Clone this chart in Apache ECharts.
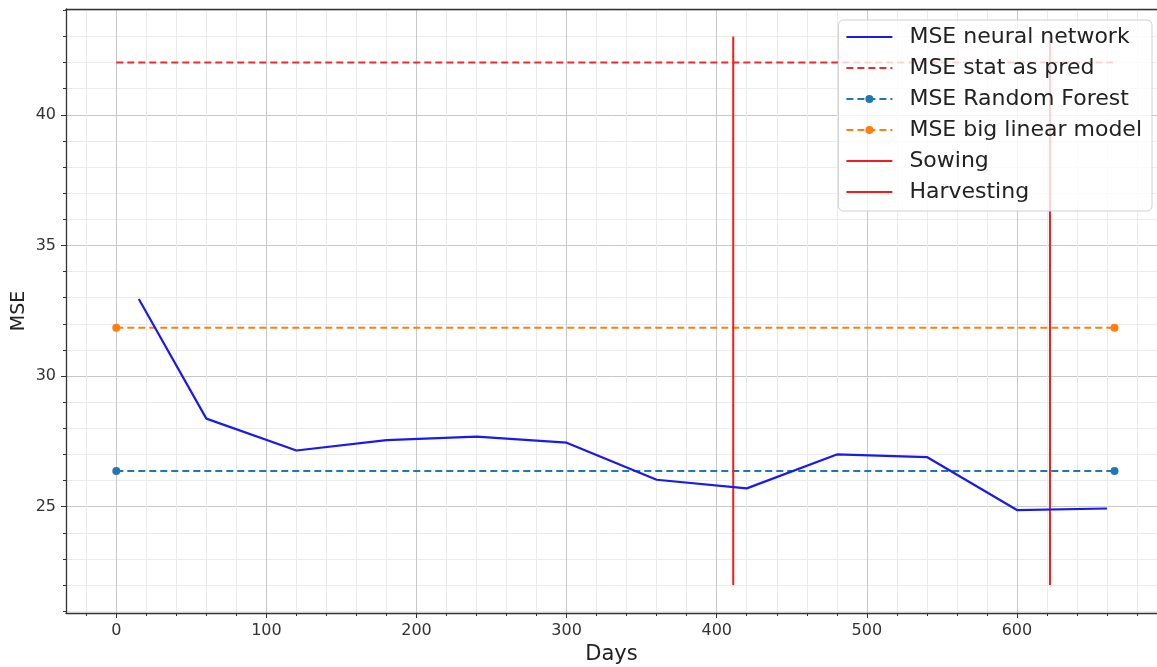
<!DOCTYPE html>
<html>
<head>
<meta charset="utf-8">
<script src="https://cdn.jsdelivr.net/npm/echarts@6/dist/echarts.min.js"></script>
<style>html,body{margin:0;padding:0;background:#fff}#c{width:1157px;height:667px}</style>
</head>
<body>
<div id="c"></div>
<script>
// ---- data ----
const nnDays = [15, 60, 120, 180, 240, 300, 360, 420, 480, 540, 600, 660];
const nnMSE = [32.95, 28.37, 27.15, 27.55, 27.68, 27.45, 26.03, 25.7, 27.0, 26.9, 24.87, 24.93];
const hLineDays = [0, 665];
const statValue = 42.0;
const rfValue = 26.37;
const lmValue = 31.85;
const sowingDay = 411;
const harvestDay = 622;
const vLineRange = [22, 43];
const xMajorTicks = [0, 100, 200, 300, 400, 500, 600];
const xMinorTicks = [-20, 20, 40, 60, 80, 120, 140, 160, 180, 220, 240, 260, 280, 320, 340, 360, 380, 420, 440, 460, 480, 520, 540, 560, 580, 620, 640, 660, 680];
const yMajorTicks = [25, 30, 35, 40];
const yMinorTicks = [21, 22, 23, 24, 26, 27, 28, 29, 31, 32, 33, 34, 36, 37, 38, 39, 41, 42, 43, 44];
const xRange = [-33.5, 693.3];
const yRange = [20.93, 44.05];
const seriesNames = ['MSE neural network', 'MSE stat as pred', 'MSE Random Forest', 'MSE big linear model', 'Sowing', 'Harvesting'];

const FONT = 'DejaVu Sans';
const chart = echarts.init(document.getElementById('c'));

function hline(v) { return hLineDays.map(d => [d, v]); }
function vline(d) { return vLineRange.map(v => [d, v]); }

const majorGrid = '#c8c8c8';
const minorGrid = '#ebebeb';
const axisCol = '#333';
const withMarker = { 'MSE Random Forest': true, 'MSE big linear model': true };

chart.setOption({
  animation: false,
  backgroundColor: '#fff',
  textStyle: { fontFamily: FONT },
  grid: { left: 66, top: 9, right: 0, height: 604, show: false, containLabel: false, outerBoundsMode: 'none' },
  xAxis: [
    {
      type: 'value', min: xRange[0], max: xRange[1],
      name: 'Days', nameLocation: 'middle', nameGap: 31,
      nameTextStyle: { fontSize: 21, color: '#222', fontFamily: FONT },
      axisLine: { show: true, onZero: false, lineStyle: { color: axisCol, width: 1.3 } },
      axisTick: { show: true, customValues: xMajorTicks, length: 5, lineStyle: { color: axisCol } },
      axisLabel: { customValues: xMajorTicks, fontSize: 16, color: '#333', margin: 10, fontFamily: FONT },
      splitLine: { show: true, lineStyle: { color: majorGrid, width: 1 } }
    },
    {
      type: 'value', min: xRange[0], max: xRange[1], position: 'bottom',
      axisLine: { show: false, onZero: false },
      axisTick: { show: true, customValues: xMinorTicks, length: 3, lineStyle: { color: axisCol } },
      axisLabel: { show: false },
      splitLine: { show: true, lineStyle: { color: minorGrid, width: 1 } }
    },
    {
      type: 'value', min: xRange[0], max: xRange[1], position: 'top',
      axisLine: { show: true, onZero: false, lineStyle: { color: axisCol, width: 1.3 } },
      axisTick: { show: false }, axisLabel: { show: false }, splitLine: { show: false }
    }
  ],
  yAxis: [
    {
      type: 'value', min: yRange[0], max: yRange[1],
      name: 'MSE', nameLocation: 'middle', nameGap: 37, nameRotate: 90, nameMoveOverlap: false,
      nameTextStyle: { fontSize: 19, color: '#222', fontFamily: FONT },
      axisLine: { show: true, onZero: false, lineStyle: { color: axisCol, width: 1.3 } },
      axisTick: { show: true, customValues: yMajorTicks, length: 5, lineStyle: { color: axisCol } },
      axisLabel: { customValues: yMajorTicks, fontSize: 16, color: '#333', margin: 10, fontFamily: FONT },
      splitLine: { show: true, lineStyle: { color: majorGrid, width: 1 } }
    },
    {
      type: 'value', min: yRange[0], max: yRange[1], position: 'left',
      axisLine: { show: false, onZero: false },
      axisTick: { show: true, customValues: yMinorTicks, length: 3, lineStyle: { color: axisCol } },
      axisLabel: { show: false },
      splitLine: { show: true, lineStyle: { color: minorGrid, width: 1 } }
    }
  ],
  legend: {
    orient: 'vertical', right: 5, top: 20,
    padding: [6, 10, 8, 7],
    itemWidth: 46, itemHeight: 10, itemGap: 9,
    backgroundColor: 'rgba(255,255,255,0.8)',
    borderColor: '#d0d0d0', borderWidth: 1, borderRadius: 5,
    textStyle: { fontSize: 22, lineHeight: 22, color: '#222', fontFamily: FONT, padding: [0, 0, 0, 12] },
    data: seriesNames.map(n => withMarker[n] ? { name: n } : { name: n, itemStyle: { opacity: 0 } })
  },
  series: [
    {
      name: seriesNames[0], type: 'line',
      data: nnDays.map((d, i) => [d, nnMSE[i]]),
      symbol: 'none', color: '#1a1aee',
      lineStyle: { color: '#1a1aee', width: 2.2 }, z: 5
    },
    {
      name: seriesNames[1], type: 'line', data: hline(statValue),
      symbol: 'none', color: '#ee2a30',
      lineStyle: { color: '#ee2a30', width: 2, type: [7, 4] }
    },
    {
      name: seriesNames[2], type: 'line', data: hline(rfValue),
      symbol: 'circle', symbolSize: 8, color: '#1f77b4',
      itemStyle: { color: '#1f77b4' },
      lineStyle: { color: '#1f77b4', width: 2, type: [7, 4] }
    },
    {
      name: seriesNames[3], type: 'line', data: hline(lmValue),
      symbol: 'circle', symbolSize: 8, color: '#ff7f0e',
      itemStyle: { color: '#ff7f0e' },
      lineStyle: { color: '#ff7f0e', width: 2, type: [7, 4] }
    },
    {
      name: seriesNames[4], type: 'line', data: vline(sowingDay),
      symbol: 'none', color: '#f21c1c',
      lineStyle: { color: '#f21c1c', width: 2 }
    },
    {
      name: seriesNames[5], type: 'line', data: vline(harvestDay),
      symbol: 'none', color: '#f21c1c',
      lineStyle: { color: '#f21c1c', width: 2 }
    }
  ]
});
</script>
</body>
</html>
